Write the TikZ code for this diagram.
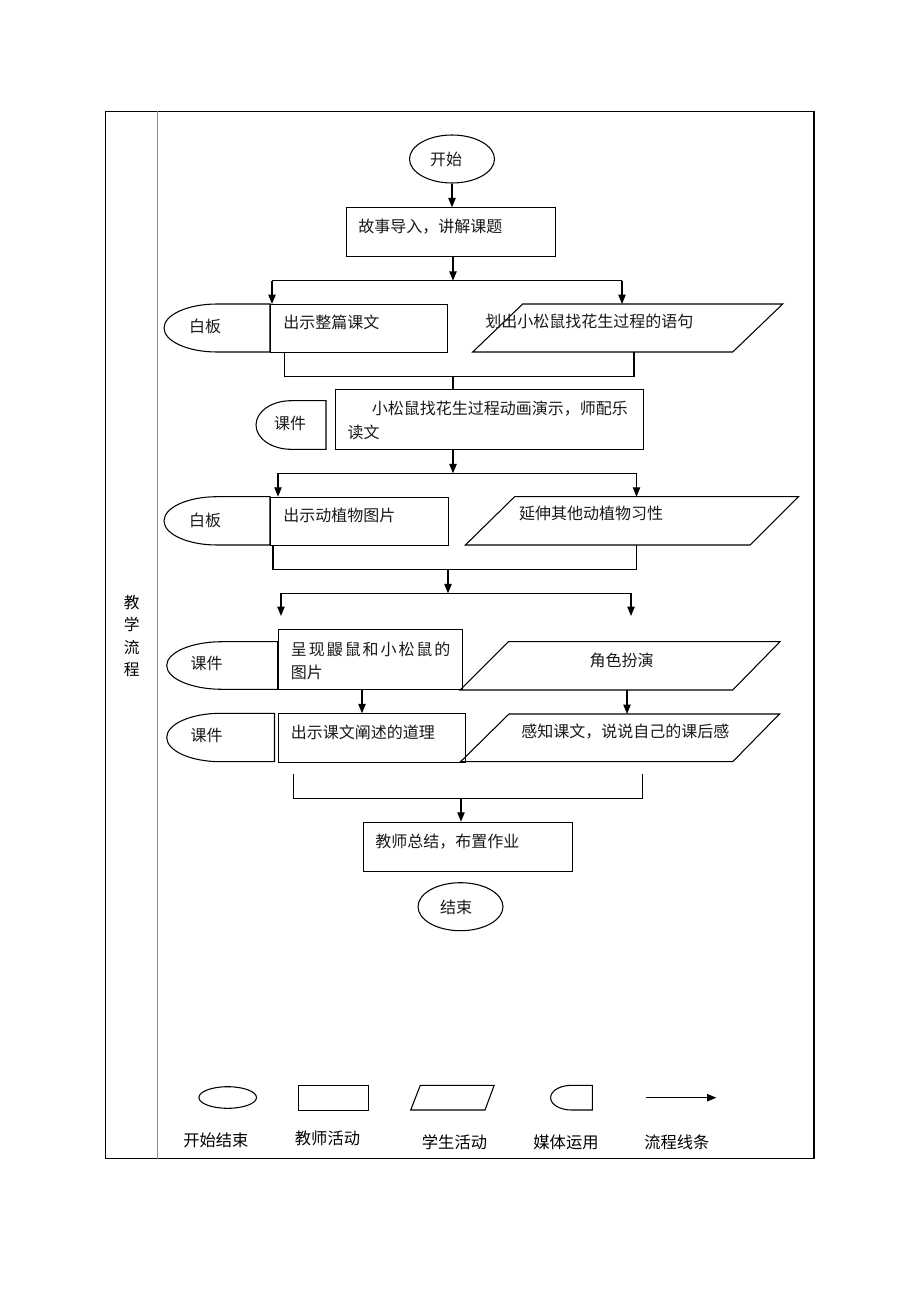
\documentclass[tikz,border=0pt]{standalone}
\usepackage{fontspec}
\newfontfamily\cjk{Noto Sans CJK SC}
\usetikzlibrary{arrows.meta,shapes.geometric}
\newcommand\pxu[1]{#1*0.75pt}
\newcommand\parashape[7]{%
  \coordinate (#1-tl) at (#3,#6); \coordinate (#1-tr) at (#4,#6);
  \coordinate (#1-br) at (#5,#7); \coordinate (#1-bl) at (#2,#7);
  \draw[ln] (#1-tl) -- (#1-tr) -- (#1-br) -- (#1-bl) -- cycle;}
\newcommand\mediashape[5]{%
  \pgfmathsetmacro\mrx{(#3-#2)/2}%
  \pgfmathsetmacro\mry{(#5-#4)/2}%
  \pgfmathsetmacro\mym{(#5+#4)/2}%
  \coordinate (#1-w) at (#2,\mym); \coordinate (#1-e) at (#3,\mym);
  \draw[ln] (#3,#4) -- ({#2+\mrx},#4)
     .. controls ({#2+\mrx*0.4477},#4) and (#2,{\mym-0.5523*\mry}) .. (#1-w)
     .. controls (#2,{\mym+0.5523*\mry}) and ({#2+\mrx*0.4477},#5) .. ({#2+\mrx},#5)
     -- (#3,#5) -- cycle;}
\tikzset{
  ln/.style={line width=0.8pt, draw=black},
  arr/.style={ln, -{Triangle[length=7pt,width=5.5pt]}},
  box/.style={ln, rectangle, inner sep=0pt, anchor=north west},
  oval/.style={ln, ellipse, inner sep=0pt},
  txt/.style={font=\cjk\fontsize{12pt}{16pt}\selectfont, inner sep=0pt, text=black!90},
  lgt/.style={font=\cjk\fontsize{12.2pt}{16pt}\selectfont, inner sep=0pt},
}
\begin{document}
\begin{tikzpicture}[x=0.75pt,y=-0.75pt]
\useasboundingbox (0,0) rectangle (920,1302);
% frame
\draw[line width=1.1pt] (105.5,111.5) rectangle (814,1158.5);
\draw[line width=1.1pt, draw=black!45] (157.5,111.5) -- (157.5,1158.5);
\node[inner sep=0pt, align=center, font=\cjk\fontsize{11.8pt}{16.65pt}\selectfont] (side) at (131.7,636) {教\\学\\流\\程};

% start
\node[oval, minimum width=\pxu{85}, minimum height=\pxu{48}] (start) at (452,159) {};
\node[txt] (tstart) at (446,159) {开始};
% R1
\node[box, minimum width=\pxu{209}, minimum height=\pxu{49}] (b1) at (346,207.3) {};
\node[txt, anchor=west] (t1) at (358,226.7) {故事导入，讲解课题};
\draw[arr] (start.south) -- (start.south |- b1.north);

% split 1
\coordinate (s1) at (453,280.7);
\coordinate (s1l) at (272,280.7);
\coordinate (s1r) at (622,280.7);
\draw[arr] (b1.south -| s1) -- (s1);
\draw[ln] (s1l) -- (s1r);

% row 1
\mediashape{m1}{164}{270}{304}{352}
\node[txt] (tm1) at (205,326) {白板};
\node[box, minimum width=\pxu{177}, minimum height=\pxu{48}] (b2) at (270,304) {};
\node[txt, anchor=west] (t2) at (283,322.7) {出示整篇课文};
\parashape{p1}{472.7}{522.7}{782.7}{732.7}{304}{352}
\node[txt, anchor=west] (tp1) at (485,321.7) {划出小松鼠找花生过程的语句};
\draw[arr] (s1l) -- (s1l |- b2.north);
\draw[arr] (s1r) -- (s1r |- p1-tl);

% merge 1
\coordinate (j1a) at (284.3,376.7);
\coordinate (j1b) at (634,376.7);
\coordinate (j1) at (453,376.7);
\draw[ln] (b2.south -| j1a) -- (j1a) -- (j1b) -- (j1b |- p1-bl);

% row 2
\mediashape{m2}{256}{326}{400.7}{449.3}
\node[txt] (tm2) at (290,423.3) {课件};
\node[box, minimum width=\pxu{308.5}, minimum height=\pxu{60}] (b3) at (334.5,389.3) {};
\node[txt, anchor=west] (t3a) at (371.7,408.3) {小松鼠找花生过程动画演示，师配乐};
\node[txt, anchor=west] (t3b) at (347.3,432.7) {读文};
\draw[ln] (j1) -- (j1 |- b3.north);

% split 2
\coordinate (s2) at (453,473.3);
\coordinate (s2l) at (278,473.3);
\coordinate (s2r) at (636.5,473.3);
\draw[arr] (b3.south -| s2) -- (s2);
\draw[ln] (s2l) -- (s2r);

% row 3
\mediashape{m3}{164}{270}{496.7}{545}
\node[txt] (tm3) at (205,520) {白板};
\node[box, minimum width=\pxu{178}, minimum height=\pxu{48.3}] (b4) at (270,496.7) {};
\node[txt, anchor=west] (t4) at (283,515) {出示动植物图片};
\parashape{p2}{465.4}{514.6}{798.5}{750}{496.7}{545}
\node[txt, anchor=west] (tp2) at (518.75,513.3) {延伸其他动植物习性};
\draw[arr] (s2l) -- (s2l |- b4.north);
\draw[arr] (s2r) -- (s2r |- p2-tl);

% merge 2
\coordinate (j2a) at (273,569.3);
\coordinate (j2b) at (636.7,569.3);
\coordinate (j2) at (448,569.3);
\coordinate (s3) at (448,593.3);
\coordinate (s3l) at (281,593.3);
\coordinate (s3r) at (631,593.3);
\coordinate (e3l) at (281,616);
\coordinate (e3r) at (631,616);
\draw[ln] (b4.south -| j2a) -- (j2a) -- (j2b) -- (j2b |- p2-bl);
\draw[arr] (j2) -- (s3);
\draw[ln] (s3l) -- (s3r);
\draw[arr] (s3l) -- (e3l);
\draw[arr] (s3r) -- (e3r);

% row 4
\mediashape{m4}{166.7}{277.7}{641.7}{689.3}
\node[txt] (tm4) at (206.7,663.3) {课件};
\node[box, minimum width=\pxu{184.6}, minimum height=\pxu{60}] (b5) at (277.7,629.3) {};
\node[txt, anchor=west] (t5a) at (290.7,649.3) {呈\hspace{1.45pt}现\hspace{1.45pt}鼹\hspace{1.45pt}鼠\hspace{1.45pt}和\hspace{1.45pt}小\hspace{1.45pt}松\hspace{1.45pt}鼠\hspace{1.45pt}的};
\node[txt, anchor=west] (t5b) at (290.7,672.7) {图片};
\parashape{p3}{460}{508.3}{780}{732.7}{641.7}{690}
\node[txt] (tp3) at (621.7,660) {角色扮演};

% row 5
\mediashape{m5}{166.7}{274.5}{713.3}{761.7}
\node[txt] (tm5) at (206.7,735) {课件};
\node[box, minimum width=\pxu{186.7}, minimum height=\pxu{48.4}] (b6) at (278.3,713.3) {};
\node[txt, anchor=west] (t6) at (290.7,732.7) {出示课文阐述的道理};
\parashape{p4}{460.5}{509}{779.5}{732.7}{714}{761.7}
\node[txt, anchor=west] (tp4) at (521,731.7) {感知课文，说说自己的课后感};
\coordinate (a5) at (362,689.3);
\coordinate (a6) at (627,690);
\draw[arr] (a5) -- (a5 |- b6.north);
\draw[arr] (a6) -- (a6 |- p4-tl);

% merge 3
\coordinate (k1) at (293.75,774.3);
\coordinate (k2) at (293.75,798.3);
\coordinate (k3) at (642.5,798.3);
\coordinate (k4) at (642.5,774.3);
\coordinate (k) at (461,798.3);
\draw[ln] (k1) -- (k2) -- (k3) -- (k4);
\node[box, minimum width=\pxu{209.5}, minimum height=\pxu{49}] (b7) at (362.5,821.7) {};
\node[txt, anchor=west] (t7) at (375,841.7) {教师总结，布置作业};
\draw[arr] (k) -- (k |- b7.north);

% end
\node[oval, minimum width=\pxu{85}, minimum height=\pxu{48}] (end) at (460.5,906.7) {};
\node[txt] (tend) at (456,907.3) {结束};

% legend
\node[oval, minimum width=\pxu{57.6}, minimum height=\pxu{21.6}] (lg1) at (227.7,1097.5) {};
\node[box, minimum width=\pxu{70}, minimum height=\pxu{24.7}] (lg2) at (298,1085.3) {};
\parashape{lg3}{410.7}{420.3}{494.2}{485}{1085.3}{1110}
\mediashape{lg4}{550.6}{592.4}{1085.3}{1110}
\coordinate (la) at (646,1097.7);
\coordinate (lb) at (716.4,1097.7);
\draw[arr] (la) -- (lb);
\node[lgt] (l1) at (215.8,1140.7) {开始结束};
\node[lgt] (l2) at (327.5,1138.5) {教师活动};
\node[lgt] (l3) at (454.5,1142.5) {学生活动};
\node[lgt] (l4) at (566,1142) {媒体运用};
\node[lgt] (l5) at (676.8,1142) {流程线条};
\end{tikzpicture}
\end{document}
